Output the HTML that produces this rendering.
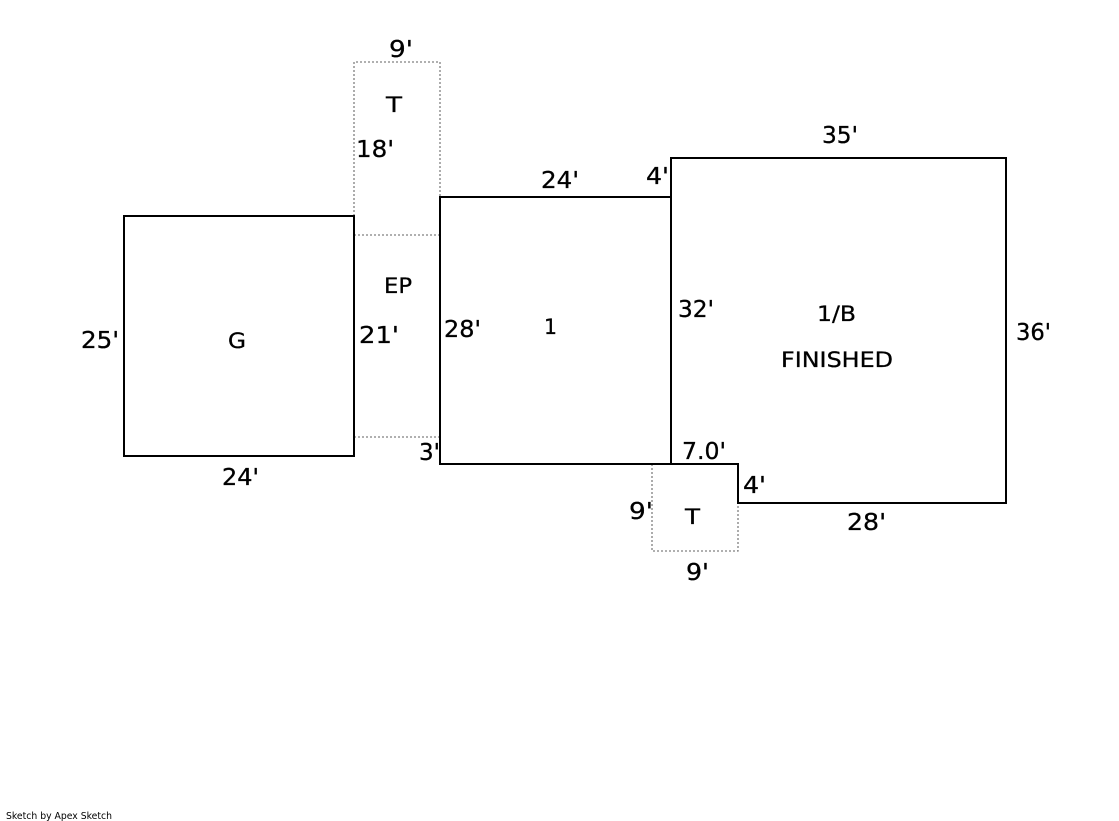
<!DOCTYPE html>
<html><head><meta charset="utf-8"><style>
html,body{margin:0;padding:0;background:#fff;}
svg{display:block;}
text{font-family:"DejaVu Sans","Liberation Sans",sans-serif;fill:#000;stroke:#000;stroke-width:0.3;}
</style></head><body>
<svg width="1119" height="821" viewBox="0 0 1119 821" xmlns="http://www.w3.org/2000/svg">
<rect width="1119" height="821" fill="#fff"/>
<g fill="none" stroke="#808080" stroke-width="1.3" stroke-dasharray="2,2">
<path d="M354 216 V62 H440 V197"/>
<path d="M354 235 H440"/>
<path d="M354 437 H440"/>
<path d="M652 464 V551 H738 V503"/>
</g>
<g fill="none" stroke="#000" stroke-width="2">
<rect x="124" y="216" width="230" height="240"/>
<rect x="440" y="197" width="231" height="267"/>
<path d="M671 158 H1006 V503 H738 V464 H671 Z"/>
</g>
<g font-size="23">
<text x="389" y="57" textLength="24" lengthAdjust="spacingAndGlyphs">9'</text>
<text x="356" y="157" textLength="38" lengthAdjust="spacingAndGlyphs">18'</text>
<text x="541" y="188" textLength="38" lengthAdjust="spacingAndGlyphs">24'</text>
<text x="646" y="184" textLength="23" lengthAdjust="spacingAndGlyphs">4'</text>
<text x="822" y="143" textLength="36" lengthAdjust="spacingAndGlyphs">35'</text>
<text x="81" y="348" textLength="38" lengthAdjust="spacingAndGlyphs">25'</text>
<text x="359" y="343" textLength="40" lengthAdjust="spacingAndGlyphs">21'</text>
<text x="444" y="337" textLength="37" lengthAdjust="spacingAndGlyphs">28'</text>
<text x="678" y="317" textLength="36" lengthAdjust="spacingAndGlyphs">32'</text>
<text x="1016" y="340" textLength="35" lengthAdjust="spacingAndGlyphs">36'</text>
<text x="419" y="460" textLength="21" lengthAdjust="spacingAndGlyphs">3'</text>
<text x="222" y="485" textLength="37" lengthAdjust="spacingAndGlyphs">24'</text>
<text x="682" y="459" textLength="44" lengthAdjust="spacingAndGlyphs">7.0'</text>
<text x="743" y="493" textLength="23" lengthAdjust="spacingAndGlyphs">4'</text>
<text x="629" y="519" textLength="24" lengthAdjust="spacingAndGlyphs">9'</text>
<text x="847" y="530" textLength="39" lengthAdjust="spacingAndGlyphs">28'</text>
<text x="686" y="580" textLength="23" lengthAdjust="spacingAndGlyphs">9'</text>
</g>
<g font-size="21">
<text x="386" y="112" textLength="16" lengthAdjust="spacingAndGlyphs">T</text>
<text x="384" y="293" textLength="28" lengthAdjust="spacingAndGlyphs">EP</text>
<text x="228" y="348" textLength="18" lengthAdjust="spacingAndGlyphs">G</text>
<text x="544" y="334" textLength="13" lengthAdjust="spacingAndGlyphs">1</text>
<text x="817" y="321" textLength="39" lengthAdjust="spacingAndGlyphs">1/B</text>
<text x="781" y="367" textLength="112" lengthAdjust="spacingAndGlyphs">FINISHED</text>
<text x="685" y="524" textLength="15" lengthAdjust="spacingAndGlyphs">T</text>
</g>
<text x="6" y="819" font-size="10" style="stroke-width:0" textLength="106" lengthAdjust="spacingAndGlyphs">Sketch by Apex Sketch</text>
</svg>
</body></html>
